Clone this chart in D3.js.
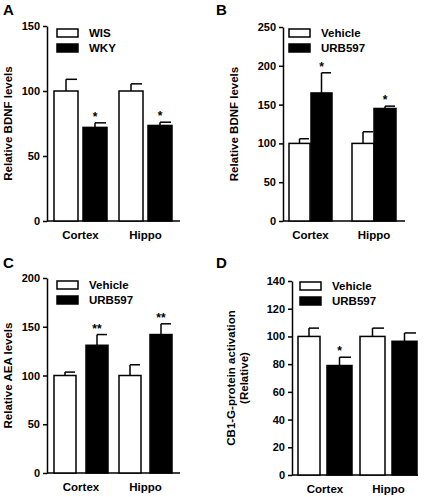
<!DOCTYPE html><html><head><script src="https://d3js.org/d3.v7.min.js"></script>
<style>body{margin:0;background:#fff}text{font-family:Arial,"Liberation Sans",sans-serif;font-weight:bold}</style></head><body>
<svg id="c" width="426" height="497"></svg>
<script>
const categories=["Cortex","Hippo"];
const seriesA=["WIS","WKY"], valuesA=[[100,72],[100,73.5]], errA=[[9,3.5],[5.5,2.5]], starsA=[["","*"],["","*"]];
const seriesB=["Vehicle","URB597"], valuesB=[[100,165],[100,145]], errB=[[6,26],[15,3]], starsB=[["","*"],["","*"]];
const seriesC=["Vehicle","URB597"], valuesC=[[100,131],[100,142]], errC=[[3.5,11],[11,11]], starsC=[["","**"],["","**"]];
const seriesD=["Vehicle","URB597"], valuesD=[[100,79],[100,96.5]], errD=[[6,6],[6,6]], starsD=[["","*"],["",""]];
const ticksA=[0,50,100,150], ticksB=[0,50,100,150,200,250], ticksC=[0,50,100,150,200], ticksD=[0,20,40,60,80,100,120,140];
const svg=d3.select("#c");
function panel(o){
  const g=svg.append("g");
  const y=d3.scaleLinear().domain([0,o.max]).range([o.y1,o.y0]);
  g.append("text").attr("x",o.lx).attr("y",o.ly).attr("font-size",15).text(o.letter);
  g.append("g").attr("transform",`translate(${o.ax},0)`).call(d3.axisLeft(y).tickValues(o.ticks).tickSize(4).tickSizeOuter(0))
   .call(a=>{a.select(".domain").attr("stroke-width",1.5);a.selectAll("line").attr("stroke-width",1.5);a.selectAll("text").attr("font-size",11).attr("font-weight","bold").attr("fill","#000").attr("font-family","Arial")});
  g.append("line").attr("x1",o.ax).attr("x2",o.axEnd).attr("y1",o.y1).attr("y2",o.y1).attr("stroke","#000").attr("stroke-width",1.5);
  o.vals.forEach((pair,ci)=>{
    pair.forEach((v,si)=>{
      const [x0,x1]=o.bars[ci*2+si];
      const e=o.err[ci][si];
      const xm=(x0+x1)/2;
      g.append("line").attr("x1",xm).attr("x2",xm).attr("y1",y(v)).attr("y2",y(v+e)).attr("stroke","#000").attr("stroke-width",1.5);
      g.append("line").attr("x1",xm).attr("x2",x1-1).attr("y1",y(v+e)).attr("y2",y(v+e)).attr("stroke","#000").attr("stroke-width",1.5);
      g.append("rect").attr("x",x0).attr("y",y(v)).attr("width",x1-x0).attr("height",y(0)-y(v)).attr("fill",si?"#000":"#fff").attr("stroke","#000").attr("stroke-width",1.5);
      if(o.stars[ci][si]) g.append("text").attr("x",xm).attr("y",y(v+e)-2).attr("text-anchor","middle").attr("font-size",12).text(o.stars[ci][si]);
    });
    const c=(o.bars[ci*2][0]+o.bars[ci*2+1][1])/2;
    g.append("text").attr("x",c).attr("y",o.y1+18).attr("text-anchor","middle").attr("font-size",11.5).text(categories[ci]);
  });
  o.series.forEach((s,i)=>{
    g.append("rect").attr("x",o.legx).attr("y",o.legy+i*15).attr("width",21).attr("height",8).attr("fill",i?"#000":"#fff").attr("stroke","#000").attr("stroke-width",1.5);
    g.append("text").attr("x",o.legx+32).attr("y",o.legy+i*15+8).attr("font-size",11.5).text(s);
  });
  const t=g.append("text").attr("transform",`translate(${o.yl},${(o.y0+o.y1)/2}) rotate(-90)`).attr("text-anchor","middle").attr("font-size",11.5);
  o.ylabel.forEach((l,i)=>t.append("tspan").attr("x",0).attr("dy",i?13:0).text(l));
}
panel({letter:"A",lx:3,ly:15,ax:47,axEnd:180,y0:26,y1:221,max:150,ticks:ticksA,vals:valuesA,err:errA,stars:starsA,series:seriesA,
  bars:[[54,78],[83,107],[119,143],[148,172]],legx:57,legy:29,yl:12,ylabel:["Relative BDNF levels"]});
panel({letter:"B",lx:216,ly:15,ax:283,axEnd:405,y0:27,y1:221,max:250,ticks:ticksB,vals:valuesB,err:errB,stars:starsB,series:seriesB,
  bars:[[289,310],[311,332],[352,374],[374,396]],legx:289,legy:29,yl:238,ylabel:["Relative BDNF levels"]});
panel({letter:"C",lx:3,ly:268,ax:47,axEnd:180,y0:278,y1:473,max:200,ticks:ticksC,vals:valuesC,err:errC,stars:starsC,series:seriesC,
  bars:[[54,76],[86,108],[119,141],[150,172]],legx:57,legy:281,yl:12,ylabel:["Relative AEA levels"]});
panel({letter:"D",lx:216,ly:268,ax:292,axEnd:418,y0:281,y1:475,max:140,ticks:ticksD,vals:valuesD,err:errD,stars:starsD,series:seriesD,
  bars:[[298,320],[327,352],[360,385],[392,417]],legx:300,legy:282,yl:235,ylabel:["CB1-G-protein activation","(Relative)"]});
</script></body></html>
